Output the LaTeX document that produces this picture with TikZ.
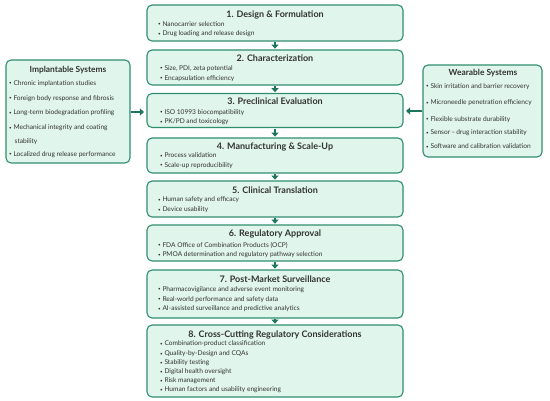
\documentclass[tikz,border=0pt]{standalone}
\usepackage{fontspec}
\setmainfont{Lato}
\usetikzlibrary{arrows.meta}
\definecolor{bfill}{RGB}{224,245,236}
\definecolor{bline}{RGB}{48,142,112}
\definecolor{arr}{RGB}{28,118,94}
\definecolor{txt}{RGB}{50,50,50}
\tikzset{
  panel/.style={draw=bline, fill=bfill, line width=1.1pt, rounded corners=5pt, inner sep=0pt},
  mainbox/.style={panel, minimum width=256pt},
  ttl/.style={font=\fontsize{9}{10}\selectfont\bfseries, text=txt, inner sep=0pt},
  sttl/.style={font=\fontsize{8.4}{9.5}\selectfont\bfseries, text=txt, inner sep=0pt},
  bl/.style={font=\fontsize{6.6}{7.5}\selectfont, text=txt, inner sep=0pt, anchor=west, align=left},
  flow/.style={draw=arr, line width=2.2pt, -{Triangle[length=4pt,width=7pt]}},
}
\newcommand{\bu}{\raisebox{0.15ex}{\fontsize{4.5}{5}\selectfont•}\ }
\begin{document}
\begin{tikzpicture}[x=1pt,y=-1pt]
\useasboundingbox (0,0) rectangle (550,401);
% main boxes
\node[mainbox, minimum height=36pt] (b1) at (275,23) {};
\node[mainbox, minimum height=35pt] (b2) at (275,67.5) {};
\node[mainbox, minimum height=34pt] (b3) at (275,110.5) {};
\node[mainbox, minimum height=35pt] (b4) at (275,155.5) {};
\node[mainbox, minimum height=36pt] (b5) at (275,199) {};
\node[mainbox, minimum height=36pt] (b6) at (275,243) {};
\node[mainbox, minimum height=48pt] (b7) at (275,294) {};
\node[mainbox, minimum height=72pt] (b8) at (275,361) {};
% side boxes
\node[panel, minimum width=124pt, minimum height=103pt] (L) at (68,111.5) {};
\node[panel, minimum width=119pt, minimum height=92pt] (R) at (482.5,111) {};
% titles
\node[ttl] (t1) at (275,14.5) {1. Design \& Formulation};
\node[ttl] (t2) at (275,58.5) {2. Characterization};
\node[ttl] (t3) at (275,101.5) {3. Preclinical Evaluation};
\node[ttl] (t4) at (275,146.5) {4. Manufacturing \& Scale-Up};
\node[ttl] (t5) at (275,190) {5. Clinical Translation};
\node[ttl] (t6) at (275,233.5) {6. Regulatory Approval};
\node[ttl] (t7) at (275,279.5) {7. Post-Market Surveillance};
\node[ttl] (t8) at (275,334.5) {8. Cross-Cutting Regulatory Considerations};
\node[sttl] (tL) at (68,70) {Implantable Systems};
\node[sttl] (tR) at (483,73.5) {Wearable Systems};
% bullets main
\node[bl] (b1a) at (158,24) {\bu Nanocarrier selection};
\node[bl] (b1b) at (158,34) {\bu Drug loading and release design};
\node[bl] (b2a) at (160,68.5) {\bu Size, PDI, zeta potential};
\node[bl] (b2b) at (160,78.5) {\bu Encapsulation efficiency};
\node[bl] (b3a) at (160,112.5) {\bu ISO 10993 biocompatibility};
\node[bl] (b3b) at (160,122) {\bu PK/PD and toxicology};
\node[bl] (b4a) at (160,155.5) {\bu Process validation};
\node[bl] (b4b) at (160,165.5) {\bu Scale-up reproducibility};
\node[bl] (b5a) at (158,200) {\bu Human safety and efficacy};
\node[bl] (b5b) at (158,210) {\bu Device usability};
\node[bl] (b6a) at (158,245) {\bu FDA Office of Combination Products (OCP)};
\node[bl] (b6b) at (158,255) {\bu PMOA determination and regulatory pathway selection};
\node[bl] (b7a) at (158,289.5) {\bu Pharmacovigilance and adverse event monitoring};
\node[bl] (b7b) at (158,299.5) {\bu Real-world performance and safety data};
\node[bl] (b7c) at (158,309) {\bu AI-assisted surveillance and predictive analytics};
\node[bl] (b8a) at (160,344) {\bu Combination-product classification};
\node[bl] (b8b) at (160,354) {\bu Quality-by-Design and CQAs};
\node[bl] (b8c) at (160,363) {\bu Stability testing};
\node[bl] (b8d) at (160,372) {\bu Digital health oversight};
\node[bl] (b8e) at (160,381) {\bu Risk management};
\node[bl] (b8f) at (160,390) {\bu Human factors and usability engineering};
% bullets left
\node[bl] (La) at (9,83.5) {\bu Chronic implantation studies};
\node[bl] (Lb) at (9,98.5) {\bu Foreign body response and fibrosis};
\node[bl] (Lc) at (9,113) {\bu Long-term biodegradation profiling};
\node[bl] (Ld) at (9,128) {\bu Mechanical integrity and coating};
\node[bl] (Ld2) at (14.5,142) {stability};
\node[bl] (Le) at (9,154.5) {\bu Localized drug release performance};
% bullets right
\node[bl] (Ra) at (426,86.5) {\bu Skin irritation and barrier recovery};
\node[bl] (Rb) at (426,103) {\bu Microneedle penetration efficiency};
\node[bl] (Rc) at (426,119.5) {\bu Flexible substrate durability};
\node[bl] (Rd) at (426,133) {\bu Sensor\,–\,drug interaction stability};
\node[bl] (Re) at (426,146.5) {\bu Software and calibration validation};
% flow arrows
\foreach \a/\b in {b1/b2,b2/b3,b3/b4,b4/b5,b5/b6,b6/b7,b7/b8}
  \draw[flow, shorten <=0.6pt, shorten >=0.8pt] (\a.south) -- (\b.north);
\draw[flow, shorten >=2.5pt] (L.east |- b3.west) ++(0,1.5) coordinate (lc) -- (lc -| b3.west);
\draw[flow, shorten >=2.5pt] (R.west |- b3.east) ++(0,0.5) coordinate (rc) -- (rc -| b3.east);
\end{tikzpicture}
\end{document}
